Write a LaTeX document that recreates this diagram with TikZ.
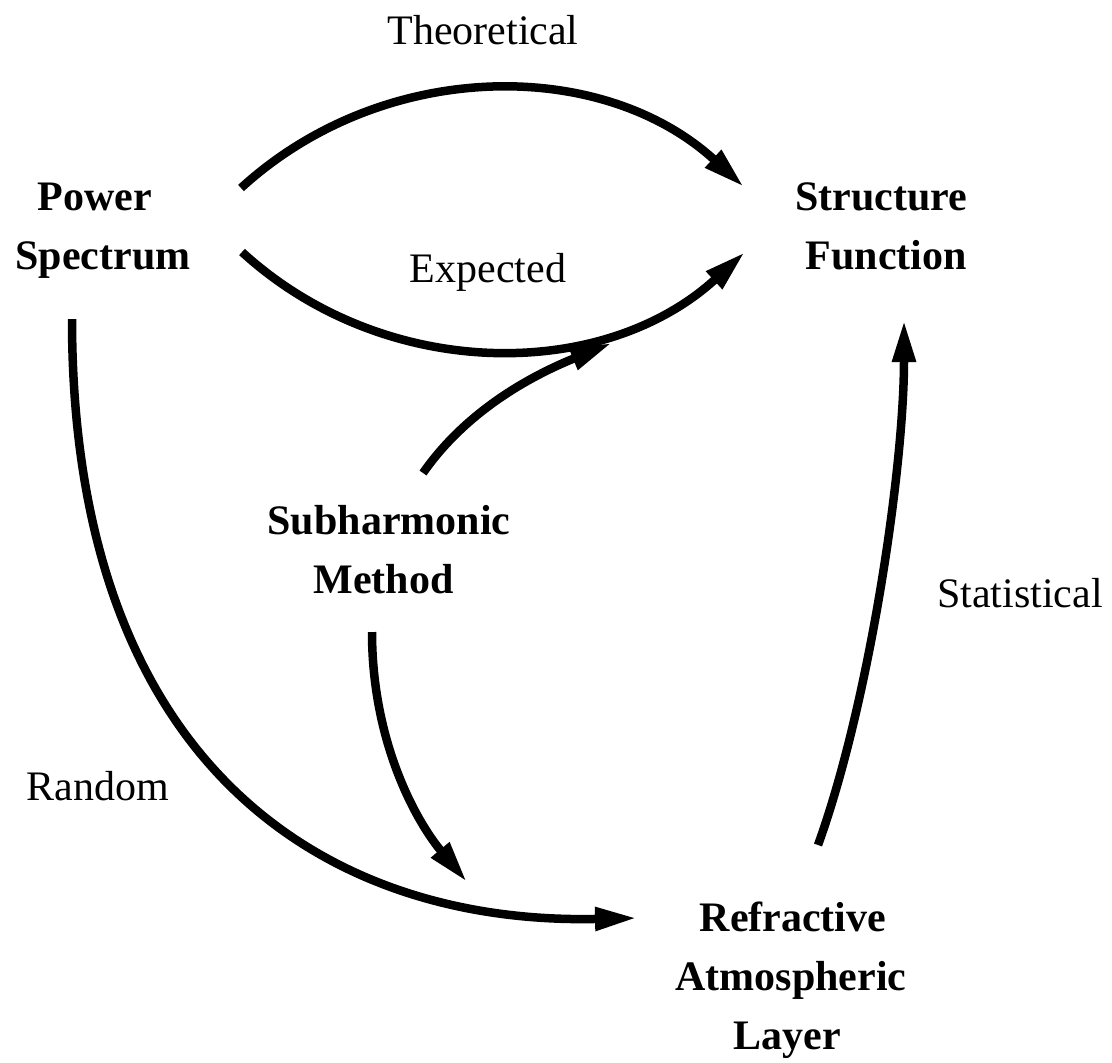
\documentclass[tikz,border=0pt]{standalone}
\usepackage{fontspec}
\setmainfont{Liberation Serif}
\usetikzlibrary{arrows.meta}
\begin{document}
\begin{tikzpicture}[x=0.5pt,y=-0.5pt,
  concept/.style={align=center,inner sep=0pt,font=\fontsize{21}{29.5}\selectfont\bfseries},
  lbl/.style={inner sep=0pt,font=\fontsize{21}{25}\selectfont},
  conn/.style={line width=4.25pt,-{Triangle[length=21pt,width=11pt]}}]
\useasboundingbox (0,0) rectangle (1112,1062);
\node[concept] (ps) at (103,231) {Power\kern8pt\\Spectrum};
\node[concept,align=right] (sf) at (881,226) {Structure\\Function};
\node[concept] (sm) at (389,550) {Subharmonic\\Method\kern5.5pt};
\node[concept] (ral) at (791,980) {\kern2pt Refractive\\Atmospheric\\Layer\kern3.5pt};
\node[lbl] (lt) at (483,30) {Theoretical};
\node[lbl] (le) at (488,272) {Expected};
\node[lbl] (ls) at (1020,593) {Statistical};
\node[lbl] (lr) at (98,786) {Random};
% Theoretical
\draw[conn] ([shift={(138,-43)}]ps.center) .. controls +(142,-130) and +(-142,-130) .. ([shift={(-137,-39)}]sf.center);
% Expected
\draw[conn] ([shift={(139,21)}]ps.center) .. controls +(142,130) and +(-142,130) .. ([shift={(-136,26)}]sf.center);
% Subharmonic -> Structure
\draw[conn] ([shift={(34,-77)}]sm.center) .. controls +(46,-66) and +(-74,30) .. ([shift={(-269,117)}]sf.center);
% Subharmonic -> Refractive
\draw[conn] ([shift={(-17,82)}]sm.center) .. controls +(0,110) and +(-51,-61) .. ([shift={(-324,-98)}]ral.center);
% Power -> Refractive (Random)
\draw[conn] ([shift={(-31,88)}]ps.center) .. controls +(0,451) and +(-307,7) .. ([shift={(-154,-62)}]ral.center);
% Refractive -> Structure (Statistical)
\draw[conn] ([shift={(27,-135)}]ral.center) .. controls +(51,-141) and +(0,150) .. ([shift={(23,94)}]sf.center);
\end{tikzpicture}
\end{document}
